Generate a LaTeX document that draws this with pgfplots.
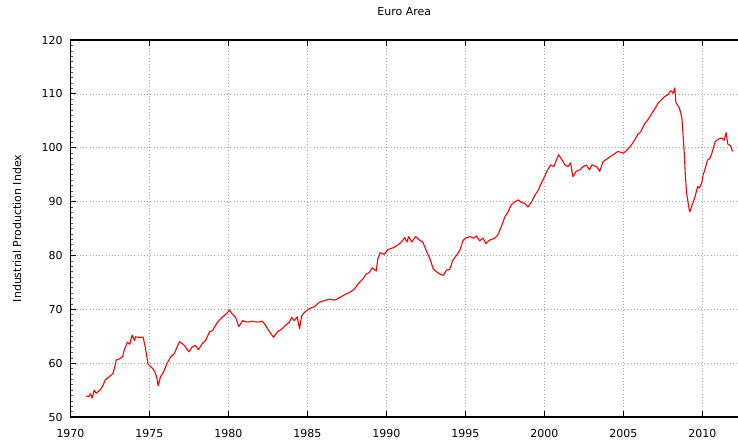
\documentclass[border=0pt]{standalone}
\usepackage{pgfplots}
\pgfplotsset{compat=1.18}
\usepackage{fontspec}
\setmainfont{DejaVu Sans}
\begin{document}
\fontsize{11bp}{13bp}\selectfont
\begin{tikzpicture}
\useasboundingbox (-70.5bp,-24bp) rectangle (667.5bp,417bp);
\begin{axis}[
  at={(0,0)}, anchor=south west,
  scale only axis, width=667.5bp, height=377bp,
  xmin=1970, xmax=2012.25, ymin=50, ymax=120,
  axis x line=box, axis y line=left,
  axis line style={-, line width=1.1bp, black},
  xtick={1970,1975,...,2010}, ytick={50,60,...,120},
  minor y tick num=9,
  tick align=inside,
  major tick length=6bp, minor tick length=2.5bp,
  tick style={black, line width=0.9bp},
  minor tick style={line width=0.5bp, black!70},
  grid=major,
  major grid style={gray!70, line width=0.6bp, dash pattern=on 1bp off 2.2bp},
  xticklabel style={anchor=base, yshift=-20bp},
  yticklabel style={xshift=-4bp},
  /pgf/number format/assume math mode=true,
  /pgf/number format/1000 sep={},
  ticklabel style={font=\fontsize{11bp}{13bp}\selectfont},
  title={Euro Area},
  title style={at={(0.5,1)}, anchor=base, yshift=19bp, font=\fontsize{11bp}{13bp}\selectfont},
  ylabel={Industrial Production Index},
  ylabel style={at={(axis description cs:-0.0801,0.5)}, anchor=center, font=\fontsize{11bp}{13bp}\selectfont},
]
\addplot[red, line width=1.1bp, line join=round] coordinates {
(1971.00,53.9) (1971.15,53.8) (1971.27,54.3) (1971.37,53.5) (1971.50,55.0) (1971.62,54.4)
(1971.90,55.1) (1972.05,55.8) (1972.20,56.9) (1972.50,57.6) (1972.70,58.1) (1972.90,60.6)
(1973.10,60.8) (1973.30,61.2) (1973.40,62.4) (1973.60,63.9) (1973.75,63.5) (1973.90,65.2)
(1974.05,64.2) (1974.12,64.9) (1974.30,64.8) (1974.60,64.8) (1974.75,62.7) (1974.90,59.9)
(1975.05,59.4) (1975.20,59.0) (1975.33,58.4) (1975.45,57.5) (1975.55,55.8) (1975.70,57.5)
(1975.90,58.4) (1976.10,59.9) (1976.35,61.2) (1976.55,61.7) (1976.75,63.0) (1976.90,64.0)
(1977.20,63.3) (1977.50,62.1) (1977.70,63.0) (1977.90,63.3) (1978.10,62.5) (1978.35,63.7)
(1978.55,64.2) (1978.80,65.8) (1979.00,66.1) (1979.30,67.6) (1979.60,68.5) (1979.95,69.4)
(1980.05,69.9) (1980.25,69.1) (1980.45,68.5) (1980.65,66.8) (1980.90,67.9) (1981.20,67.6)
(1981.50,67.8) (1981.85,67.6) (1982.15,67.8) (1982.35,67.0) (1982.60,65.8) (1982.85,64.8)
(1983.10,65.8) (1983.40,66.4) (1983.60,67.0) (1983.85,67.6) (1984.00,68.5) (1984.15,67.9)
(1984.35,68.6) (1984.50,66.4) (1984.63,68.8) (1984.80,69.4) (1985.10,70.1) (1985.45,70.5)
(1985.75,71.3) (1986.05,71.6) (1986.40,71.9) (1986.70,71.7) (1987.00,72.1) (1987.35,72.7)
(1987.65,73.1) (1987.95,73.7) (1988.20,74.7) (1988.50,75.6) (1988.70,76.5) (1988.90,76.8)
(1989.10,77.7) (1989.35,77.1) (1989.45,79.3) (1989.60,80.5) (1989.85,80.2) (1990.10,81.1)
(1990.40,81.4) (1990.70,81.9) (1990.95,82.5) (1991.15,83.3) (1991.30,82.5) (1991.40,83.5)
(1991.60,82.5) (1991.85,83.5) (1992.10,82.8) (1992.30,82.5) (1992.50,81.0) (1992.75,79.4)
(1992.95,77.6) (1993.15,77.0) (1993.40,76.5) (1993.60,76.3) (1993.80,77.3) (1994.00,77.4)
(1994.20,79.1) (1994.45,80.1) (1994.65,81.0) (1994.85,82.8) (1995.00,83.2) (1995.30,83.5)
(1995.50,83.2) (1995.70,83.6) (1995.90,82.7) (1996.10,83.2) (1996.30,82.2) (1996.50,82.8)
(1996.85,83.2) (1997.05,83.8) (1997.30,85.6) (1997.50,87.2) (1997.70,88.1) (1997.90,89.4)
(1998.15,90.0) (1998.35,90.3) (1998.55,89.8) (1998.75,89.7) (1998.95,89.0) (1999.20,90.0)
(1999.40,91.2) (1999.60,92.1) (1999.80,93.4) (2000.00,94.6) (2000.20,95.9) (2000.40,96.8)
(2000.60,96.5) (2000.75,97.7) (2000.90,98.7) (2001.05,98.0) (2001.30,96.8) (2001.50,96.5)
(2001.65,97.2) (2001.80,94.6) (2002.00,95.6) (2002.25,95.9) (2002.45,96.5) (2002.65,96.8)
(2002.85,95.9) (2003.00,96.8) (2003.30,96.5) (2003.50,95.6) (2003.70,97.4) (2004.00,98.0)
(2004.35,98.7) (2004.65,99.3) (2005.00,99.0) (2005.25,99.6) (2005.50,100.5) (2005.70,101.4)
(2005.90,102.4) (2006.10,103.0) (2006.35,104.5) (2006.55,105.2) (2006.80,106.4) (2007.00,107.3)
(2007.20,108.3) (2007.40,108.9) (2007.60,109.5) (2007.80,109.8) (2008.00,110.6) (2008.15,110.1)
(2008.25,111.1) (2008.32,108.4) (2008.55,107.3) (2008.70,105.5) (2008.85,99.0) (2008.92,94.6)
(2009.00,91.5) (2009.15,88.7) (2009.20,88.1) (2009.35,89.4) (2009.50,90.6) (2009.70,92.8)
(2009.80,92.5) (2009.95,93.4) (2010.05,95.0) (2010.15,95.9) (2010.32,97.7) (2010.47,98.0)
(2010.60,99.0) (2010.80,101.1) (2011.00,101.6) (2011.20,101.8) (2011.38,101.4) (2011.50,102.8)
(2011.60,100.7) (2011.80,100.3) (2011.90,99.3)
};
\end{axis}
\end{tikzpicture}
\end{document}
